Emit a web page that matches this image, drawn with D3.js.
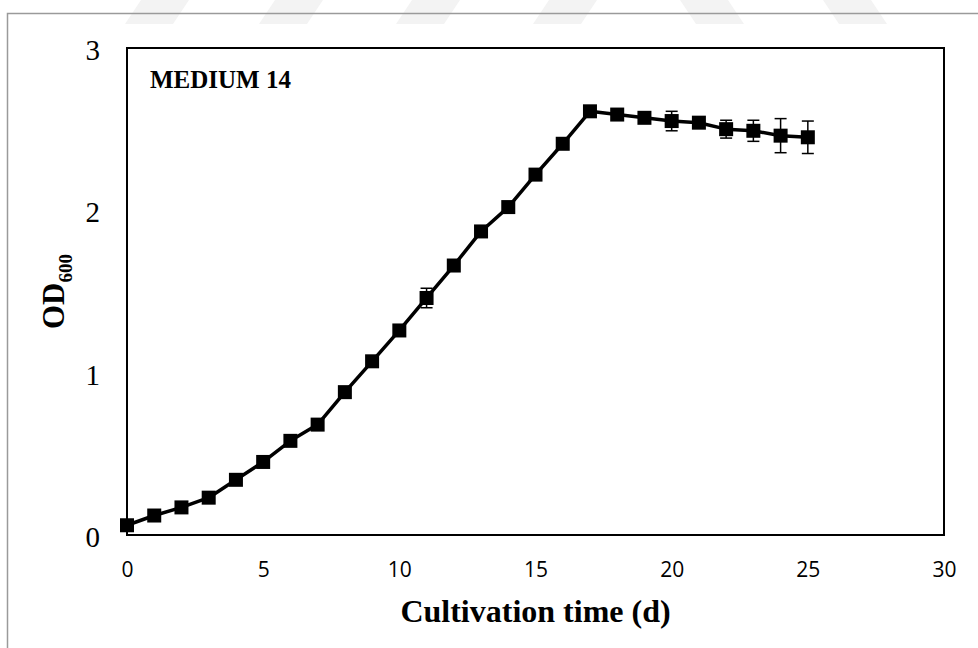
<!DOCTYPE html>
<html>
<head>
<meta charset="utf-8">
<script src="https://cdn.jsdelivr.net/npm/d3@7"></script>
<style>
  html, body { margin: 0; padding: 0; background: #fff; }
  svg { display: block; }
</style>
</head>
<body>
<svg id="chart" width="978" height="648"></svg>
<script>
// Growth curve: optical density over cultivation time
const days = [0, 1, 2, 3, 4, 5, 6, 7, 8, 9, 10, 11, 12, 13, 14, 15, 16, 17, 18, 19, 20, 21, 22, 23, 24, 25];
const od600 = [0.06, 0.12, 0.17, 0.23, 0.34, 0.45, 0.58, 0.68, 0.88, 1.07, 1.26, 1.46, 1.66, 1.87, 2.02, 2.22, 2.41, 2.61, 2.59, 2.57, 2.55, 2.54, 2.50, 2.49, 2.46, 2.45];
const od600Err = [0.01, 0.01, 0.01, 0.01, 0.01, 0.01, 0.01, 0.01, 0.01, 0.01, 0.02, 0.06, 0.02, 0.02, 0.02, 0.02, 0.02, 0.02, 0.02, 0.02, 0.06, 0.02, 0.055, 0.065, 0.105, 0.10];
const xTicks = [0, 5, 10, 15, 20, 25, 30];
const yTicks = [0, 1, 2, 3];
const panelTitle = "MEDIUM 14";
const xTitle = "Cultivation time (d)";

const svg = d3.select("#chart");
const W = 978, H = 648;
const plot = { left: 127, right: 944, top: 48, bottom: 535 };

svg.append("rect").attr("width", W).attr("height", H).attr("fill", "#fff");

// faint decorative stripes along the top edge
const stripes = [
  { x: 125, dir: 1 }, { x: 259, dir: 1 }, { x: 396, dir: 1 }, { x: 533, dir: 1 },
  { x: 680, dir: -1 }, { x: 823, dir: -1 }
];
svg.append("g").selectAll("path").data(stripes).join("path")
  .attr("d", s => {
    const w = 48, h = 24, sk = 16;
    if (s.dir > 0) return `M${s.x},${h} L${s.x + w},${h} L${s.x + w + sk},0 L${s.x + sk},0 Z`;
    return `M${s.x + sk},${h} L${s.x + w + sk},${h} L${s.x + w},0 L${s.x},0 Z`;
  })
  .attr("fill", "#f3f3f3");

// outer frame (top and left edges)
svg.append("path")
  .attr("d", `M7.5,${H} L7.5,13.5 L${W},13.5`)
  .attr("fill", "none")
  .attr("stroke", "#9a9a9a")
  .attr("stroke-width", 1.5);

const x = d3.scaleLinear().domain([0, 30]).range([plot.left, plot.right]);
const y = d3.scaleLinear().domain([0, 3]).range([plot.bottom, plot.top]);

// plot area border
svg.append("rect")
  .attr("x", plot.left).attr("y", plot.top)
  .attr("width", plot.right - plot.left).attr("height", plot.bottom - plot.top)
  .attr("fill", "none").attr("stroke", "#000").attr("stroke-width", 2);

// y axis labels
const yAxis = d3.axisLeft(y).tickValues(yTicks).tickSize(0).tickPadding(27).tickFormat(d3.format("d"));
const gy = svg.append("g").attr("transform", `translate(${plot.left},0)`).call(yAxis);
gy.select(".domain").remove();
gy.selectAll("text")
  .attr("font-family", "'Liberation Serif', 'Times New Roman', serif")
  .attr("font-size", 29).attr("fill", "#000").attr("dy", "0.4em");

// x axis labels
const xAxis = d3.axisBottom(x).tickValues(xTicks).tickSize(0).tickPadding(27).tickFormat(d3.format("d"));
const gx = svg.append("g").attr("transform", `translate(0,${plot.bottom})`).call(xAxis);
gx.select(".domain").remove();
gx.selectAll("text")
  .attr("font-family", "'Open Sans', sans-serif")
  .attr("font-size", 21).attr("fill", "#000");

// axis titles
svg.append("text")
  .attr("x", (plot.left + plot.right) / 2).attr("y", 622)
  .attr("text-anchor", "middle")
  .attr("font-family", "'Liberation Serif', 'Times New Roman', serif")
  .attr("font-weight", "bold").attr("font-size", 32)
  .text(xTitle);

const yt = svg.append("text")
  .attr("transform", `translate(64,${(plot.top + plot.bottom) / 2}) rotate(-90)`)
  .attr("text-anchor", "middle")
  .attr("font-family", "'Liberation Serif', 'Times New Roman', serif")
  .attr("font-weight", "bold").attr("font-size", 31);
yt.append("tspan").text("OD");
yt.append("tspan").attr("font-size", 19).attr("dy", 8).text("600");

// panel title
svg.append("text")
  .attr("x", 150).attr("y", 88)
  .attr("font-family", "'Liberation Serif', 'Times New Roman', serif")
  .attr("font-weight", "bold").attr("font-size", 25)
  .text(panelTitle);

const pts = days.map((d, i) => ({ d, v: od600[i], e: od600Err[i] }));

// error bars
const eb = svg.append("g").attr("stroke", "#000").attr("stroke-width", 1.5);
eb.selectAll("line.v").data(pts).join("line").attr("class", "v")
  .attr("x1", p => x(p.d)).attr("x2", p => x(p.d))
  .attr("y1", p => y(p.v + p.e)).attr("y2", p => y(p.v - p.e));
eb.selectAll("line.t").data(pts).join("line").attr("class", "t")
  .attr("x1", p => x(p.d) - 6).attr("x2", p => x(p.d) + 6)
  .attr("y1", p => y(p.v + p.e)).attr("y2", p => y(p.v + p.e));
eb.selectAll("line.b").data(pts).join("line").attr("class", "b")
  .attr("x1", p => x(p.d) - 6).attr("x2", p => x(p.d) + 6)
  .attr("y1", p => y(p.v - p.e)).attr("y2", p => y(p.v - p.e));

// connecting line
svg.append("path")
  .datum(pts)
  .attr("fill", "none").attr("stroke", "#000").attr("stroke-width", 3.5)
  .attr("stroke-linejoin", "round")
  .attr("d", d3.line().x(p => x(p.d)).y(p => y(p.v)));

// square markers
const ms = 14;
svg.append("g").selectAll("rect").data(pts).join("rect")
  .attr("x", p => x(p.d) - ms / 2).attr("y", p => y(p.v) - ms / 2)
  .attr("width", ms).attr("height", ms)
  .attr("fill", "#000");
</script>
</body>
</html>
